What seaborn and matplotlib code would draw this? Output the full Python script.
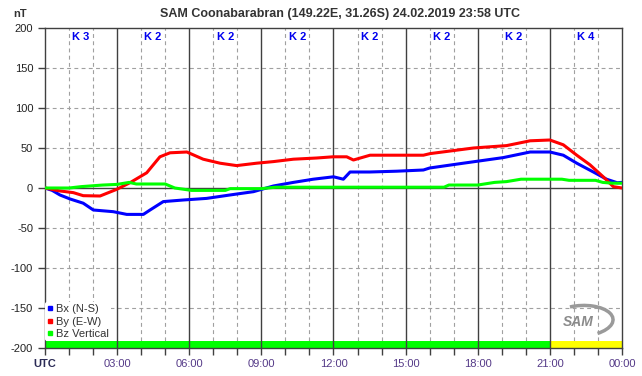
import numpy as np
import pandas as pd
import seaborn as sns
import matplotlib.pyplot as plt
from matplotlib.lines import Line2D
from matplotlib.patches import Arc

# Datos (hora UTC, nT)
t_bx = [0, 0.3, 0.62, 1.04, 1.59, 2.01, 2.84, 3.4, 4.09, 4.37, 4.92, 5.75, 6.72, 7.7, 8.67,
        9.5, 10.33, 11.16, 12.0, 12.41, 12.69, 13.5, 14.63, 15.74, 16.0, 17.4, 19.06, 20.18,
        21.0, 21.56, 22.12, 22.81, 23.36, 23.8, 24.0]
bx = [0, -3, -8.7, -13.7, -19, -27.5, -29.6, -33, -33, -27.5, -17, -15, -13, -8.7, -4.6,
      2.5, 7, 11, 14, 11, 20, 20, 21, 22.5, 25, 31, 38, 45,
      45, 41, 31, 20, 11, 6.6, 7]

t_by = [0, 0.62, 1.18, 1.59, 2.29, 2.98, 3.54, 4.23, 4.78, 5.2, 5.9, 6.58, 7.28, 7.97, 8.8,
        9.5, 10.33, 11.3, 11.98, 12.55, 12.83, 13.52, 15.74, 16.02, 17.82, 19.2, 20.18, 21.0,
        21.56, 22.12, 22.67, 23.22, 23.64, 24.0]
by = [0, -3.7, -5.8, -9.6, -10, -1.7, 6.7, 19, 39, 44, 45, 36, 31, 28, 31,
      33, 36, 37.5, 39, 39, 35, 41, 41, 43, 50, 53, 59, 60,
      54, 41, 29, 14, 1.7, 0]

t_bz = [0, 1.0, 1.5, 2.4, 3.0, 3.5, 3.8, 5.0, 5.4, 6.1, 7.5, 7.7, 9.0, 9.6, 12.0, 14.0,
        16.6, 16.8, 18.0, 18.7, 19.2, 19.8, 21.5, 21.8, 22.9, 23.2, 23.6, 24.0]
bz = [0, 0, 1.7, 3.7, 4.5, 7, 5, 5, 0, -3, -3, -0.8, -0.8, 1, 1, 1,
      1, 3.7, 3.7, 7, 8, 11, 11, 9.6, 9.6, 7, 6, 6]

componentes = ['Bx (N-S)', 'By (E-W)', 'Bz Vertical']
colores = ['#0000ff', '#ff0000', '#00ff00']

k_index = [3, 2, 2, 2, 2, 2, 2, 4]
k_colores = ['#00ff00'] * 7 + ['#ffff00']

x_labels = ['UTC', '03:00', '06:00', '09:00', '12:00', '15:00', '18:00', '21:00', '00:00']

titulo = 'SAM Coonabarabran (149.22E, 31.26S) 24.02.2019 23:58 UTC'

df = pd.concat([
    pd.DataFrame({'hora': t_bx, 'nT': bx, 'comp': componentes[0]}),
    pd.DataFrame({'hora': t_by, 'nT': by, 'comp': componentes[1]}),
    pd.DataFrame({'hora': t_bz, 'nT': bz, 'comp': componentes[2]}),
], ignore_index=True)

sns.set_style('white')
plt.rcParams['font.family'] = ['Liberation Sans', 'DejaVu Sans']
plt.rcParams['axes.unicode_minus'] = False

fig, ax = plt.subplots(figsize=(6.42, 3.76), dpi=100)
fig.subplots_adjust(left=0.0701, right=0.9688, bottom=0.0745, top=0.9255)

# Rejilla
for h in range(1, 24):
    if h % 3 == 0:
        ax.axvline(h, color='#404040', lw=1, zorder=3)
    else:
        ax.axvline(h, color='#a0a0a0', lw=0.8, ls=(0, (3.5, 3)), zorder=1)
for v in [-150, -100, -50, 50, 100, 150]:
    ax.axhline(v, color='#a0a0a0', lw=0.8, ls=(0, (3.5, 3)), zorder=1)
ax.axhline(0, color='#404040', lw=1, zorder=1)

# Barra de indice K
for i, c in enumerate(k_colores):
    ax.fill_between([i * 3, i * 3 + 3], -200, -191, color=c, lw=0, zorder=2)

sns.lineplot(data=df, x='hora', y='nT', hue='comp', palette=colores, hue_order=componentes,
             linewidth=2.2, sort=False, estimator=None, legend=False, ax=ax, zorder=4)

for i, k in enumerate(k_index):
    ax.text(i * 3 + 1.5, 189, f'K {k}', color='#0000ee', fontsize=8, fontweight='bold',
            ha='center', va='center', zorder=5)

ax.set_xlim(0, 24)
ax.set_ylim(-200, 200)
ax.set_xticks(range(0, 25, 3))
ax.set_xticks(range(0, 25, 1), minor=True)
ax.set_xticklabels(x_labels)
ax.set_yticks(range(-200, 201, 50))
ax.set_xlabel('')
ax.set_ylabel('')
ax.tick_params(axis='x', which='both', direction='out', length=5, width=1, color='#404040',
               bottom=True, labelsize=8, labelcolor='#553a88', pad=3)
ax.tick_params(axis='y', direction='out', length=5, width=1, color='#404040', left=True,
               labelsize=8, labelcolor='#222222')
lbls = ax.get_xticklabels()
lbls[0].set_color('#2a2a55')
lbls[0].set_fontweight('bold')
for s in ax.spines.values():
    s.set_color('#404040')
    s.set_linewidth(1)

handles = [Line2D([], [], marker='s', markersize=2.5, color=c, ls='none') for c in colores]
leg = ax.legend(handles, componentes, loc='lower left', bbox_to_anchor=(0, 0.022),
                borderaxespad=0, fontsize=8, handlelength=0.5, handletextpad=0.3,
                labelspacing=0.2, frameon=True, borderpad=0.2)
leg.get_frame().set_facecolor('white')
leg.get_frame().set_edgecolor('none')
leg.get_frame().set_alpha(1)
for txt in leg.get_texts():
    txt.set_color('#333333')

# Logo SAM
ax.text(0.925, 0.08, 'SAM', transform=ax.transAxes, fontsize=10, fontstyle='italic',
        fontweight='bold', color='#8a8a8a', ha='center', va='center', zorder=5)
ax.add_patch(Arc((0.93, 0.085), 0.11, 0.095, angle=15, theta1=-70, theta2=100,
                 transform=ax.transAxes, color='#9a9a9a', lw=2.5, zorder=5))

fig.text(0.53, 0.963, titulo, ha='center', va='center', fontsize=9, fontweight='bold',
         color='#333333')
fig.text(0.032, 0.963, 'nT', ha='center', va='center', fontsize=8, fontweight='bold',
         color='#333333')

fig.savefig('out.png', dpi=100)
